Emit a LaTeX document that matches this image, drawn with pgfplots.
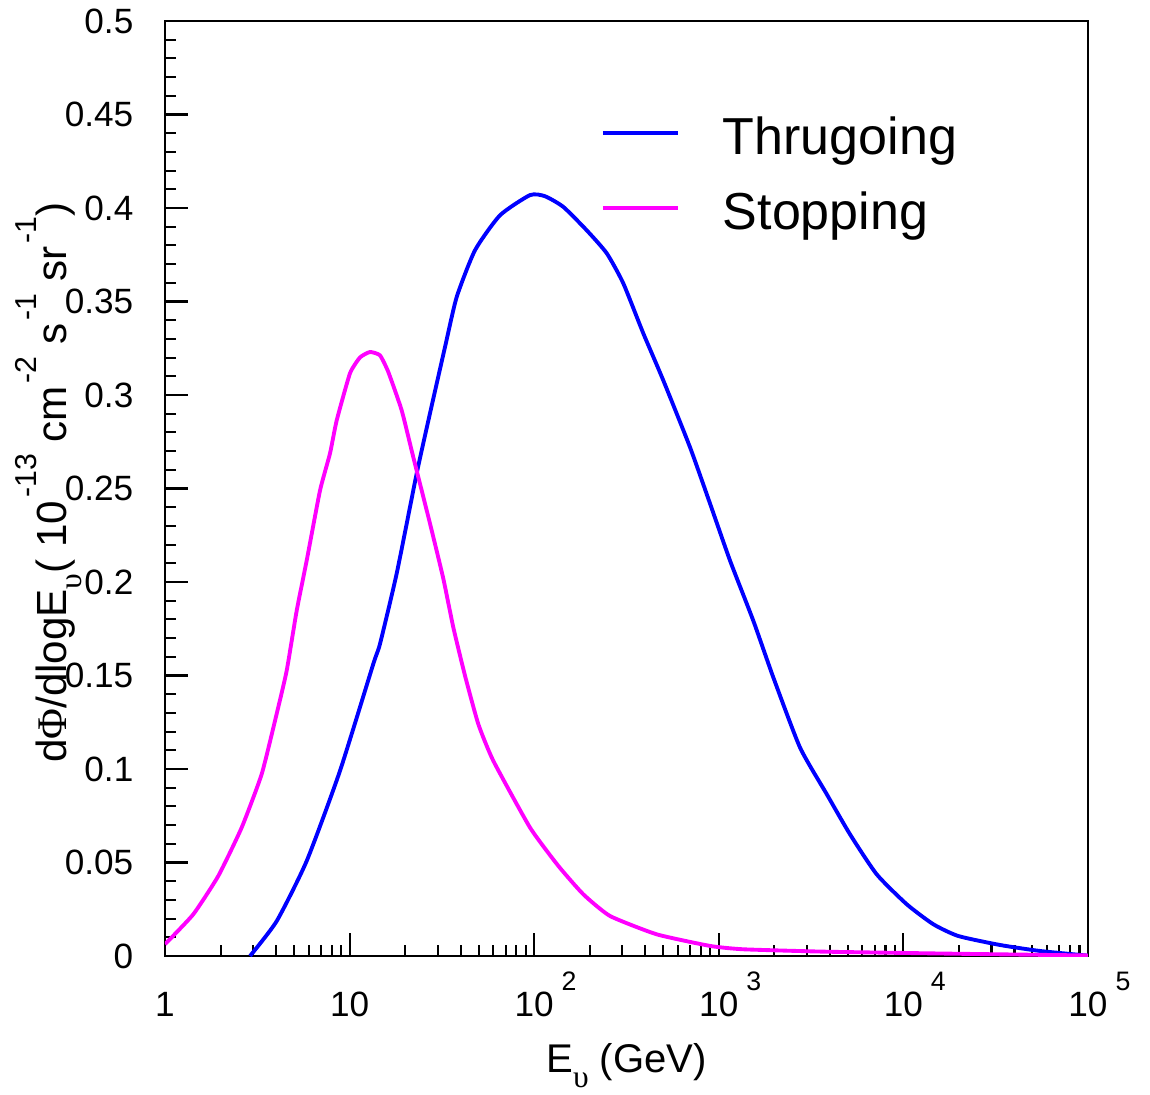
\documentclass[border=0pt]{standalone}
\usepackage{fontspec}
\setmainfont{Liberation Sans}
\newfontfamily\symfont{Liberation Serif}
\usepackage{pgfplots}
\pgfplotsset{compat=1.18}
\definecolor{rootblue}{RGB}{0,0,255}
\definecolor{rootmag}{RGB}{255,0,255}

\newcommand{\ticksize}{\fontsize{10pt}{12pt}\selectfont}
\newcommand{\xlabsize}{\fontsize{11.4pt}{13pt}\selectfont}
\newcommand{\ylabsize}{\fontsize{12pt}{14pt}\selectfont}
\newcommand{\supsize}{\fontsize{7.6pt}{9pt}\selectfont}
% superscript hanging to the right of a centred tick label
\newcommand{\hsup}[1]{\rlap{\hspace{0.8mm}\raisebox{2.6mm}{\supsize #1}}}
\newcommand{\tsup}[1]{\hspace{0.3mm}\raisebox{3mm}{\fontsize{8.6pt}{9pt}\selectfont #1}}
\newcommand{\nusub}{\raisebox{-1.5mm}{\fontsize{9pt}{9pt}\selectfont\symfont υ}}

\pgfplotstableread{
E       y
2.888   0.0
4.03    0.0187
5.86    0.0509
8.87    0.0990
13.44   0.1562
14.61   0.1669
17.99   0.2045
23.09   0.2580
27.26   0.2902
32.87   0.3256
38.04   0.3524
47.79   0.3774
65.27   0.3961
94.9    0.4069
114.4   0.4063
143.8   0.4006
192.5   0.3881
247.1   0.3758
303.9   0.3597
389.9   0.3330
500.5   0.3078
698.2   0.2721
896.1   0.2420
1150    0.2115
1538    0.1793
1974    0.1490
2754    0.1115
3842    0.0866
5137    0.0651
7168    0.0437
10420   0.0277
14521   0.0170
19834   0.0107
33370   0.0059
54954   0.0027
100000  0.0002
}\thrugoing

\pgfplotstableread{
E       y
1.0     0.0063
1.423   0.0223
1.944   0.0428
2.603   0.0687
3.341   0.0973
4.029   0.1296
4.563   0.1526
5.170   0.1847
5.857   0.2115
6.914   0.2489
7.830   0.2687
8.513   0.2864
10.05   0.3116
11.39   0.3201
12.90   0.3230
14.61   0.3212
16.21   0.3123
19.15   0.2918
22.13   0.2668
27.26   0.2313
32.19   0.2018
36.47   0.1757
42.19   0.1499
49.81   0.1240
60.04   0.1044
94.9    0.0687
135.1   0.0482
184.5   0.0330
257.4   0.0214
460.9   0.0116
896.1   0.0054
1357    0.0036
3842    0.0023
19834   0.0012
100000  0.0003
}\stopping

\begin{document}
\begin{tikzpicture}
\begin{axis}[
    name=ax,
    width=92.3mm, height=93.5mm, scale only axis,
    xmode=log, log basis x=10,
    xmin=1, xmax=100000, ymin=0, ymax=0.5,
    axis line style={line width=0.6pt},
    tick style={line width=0.6pt, black},
    major tick length=2.3mm, minor tick length=1.1mm,
    tick align=inside, xtick pos=bottom, ytick pos=left,
    xtick={1,10,100,1000,10000,100000},
    xticklabels={1,10,10\hsup{2},10\hsup{3},10\hsup{4},10\hsup{5}},
    minor xtick={2,3,4,5,6,7,8,9,20,30,40,50,60,70,80,90,
        200,300,400,500,600,700,800,900,2000,3000,4000,5000,6000,7000,8000,9000,
        20000,30000,40000,50000,60000,70000,80000,90000},
    ytick={0,0.05,0.1,0.15,0.2,0.25,0.3,0.35,0.4,0.45,0.5},
    yticklabels={0,0.05,0.1,0.15,0.2,0.25,0.3,0.35,0.4,0.45,0.5},
    minor y tick num=4,
    xticklabel style={font=\ticksize, inner sep=0pt, anchor=base, yshift=-6mm},
    yticklabel style={font=\ticksize, inner sep=0pt, anchor=east, xshift=-3.1mm},
    xlabel={E\nusub\ (GeV)},
    xlabel style={font=\xlabsize, inner sep=0pt, at={(axis description cs:0.5,-0.1251)}, anchor=base},
    ylabel={d{\symfont Φ}/dlogE\nusub( 10\tsup{-13} cm\tsup{-2} s\tsup{-1} sr\tsup{-1})},
    ylabel style={font=\ylabsize, inner sep=0pt, at={(axis description cs:-0.1065,0.5060)}, anchor=base},
    legend style={draw=none, fill=none, at={(axis description cs:0.4724,0.9005)},
        anchor=north west, inner sep=0pt, outer sep=0pt,
        font=\fontsize{14.8pt}{17pt}\selectfont,
        row sep=2.3mm, column sep=0pt,
        nodes={inner sep=0pt, text height=4mm, text depth=1.2mm, anchor=base west}},
    legend cell align=left,
    legend image code/.code={
        \draw[#1] (0mm,2.1mm) -- (7.5mm,2.1mm);
        \path (0mm,0mm) (11.8mm,0mm);
    },
]
\addplot[color=rootblue, line width=1.1pt, smooth, tension=0.35] table[x=E, y=y] {\thrugoing};
\addlegendentry{Thrugoing}
\addplot[color=rootmag, line width=1.1pt, smooth, tension=0.3] table[x=E, y=y] {\stopping};
\addlegendentry{Stopping}
\end{axis}
\pgfresetboundingbox
\path ([xshift=-16.5mm,yshift=-13.8mm]ax.south west) rectangle ([xshift=6.2mm,yshift=2.1mm]ax.north east);
\end{tikzpicture}
\end{document}
